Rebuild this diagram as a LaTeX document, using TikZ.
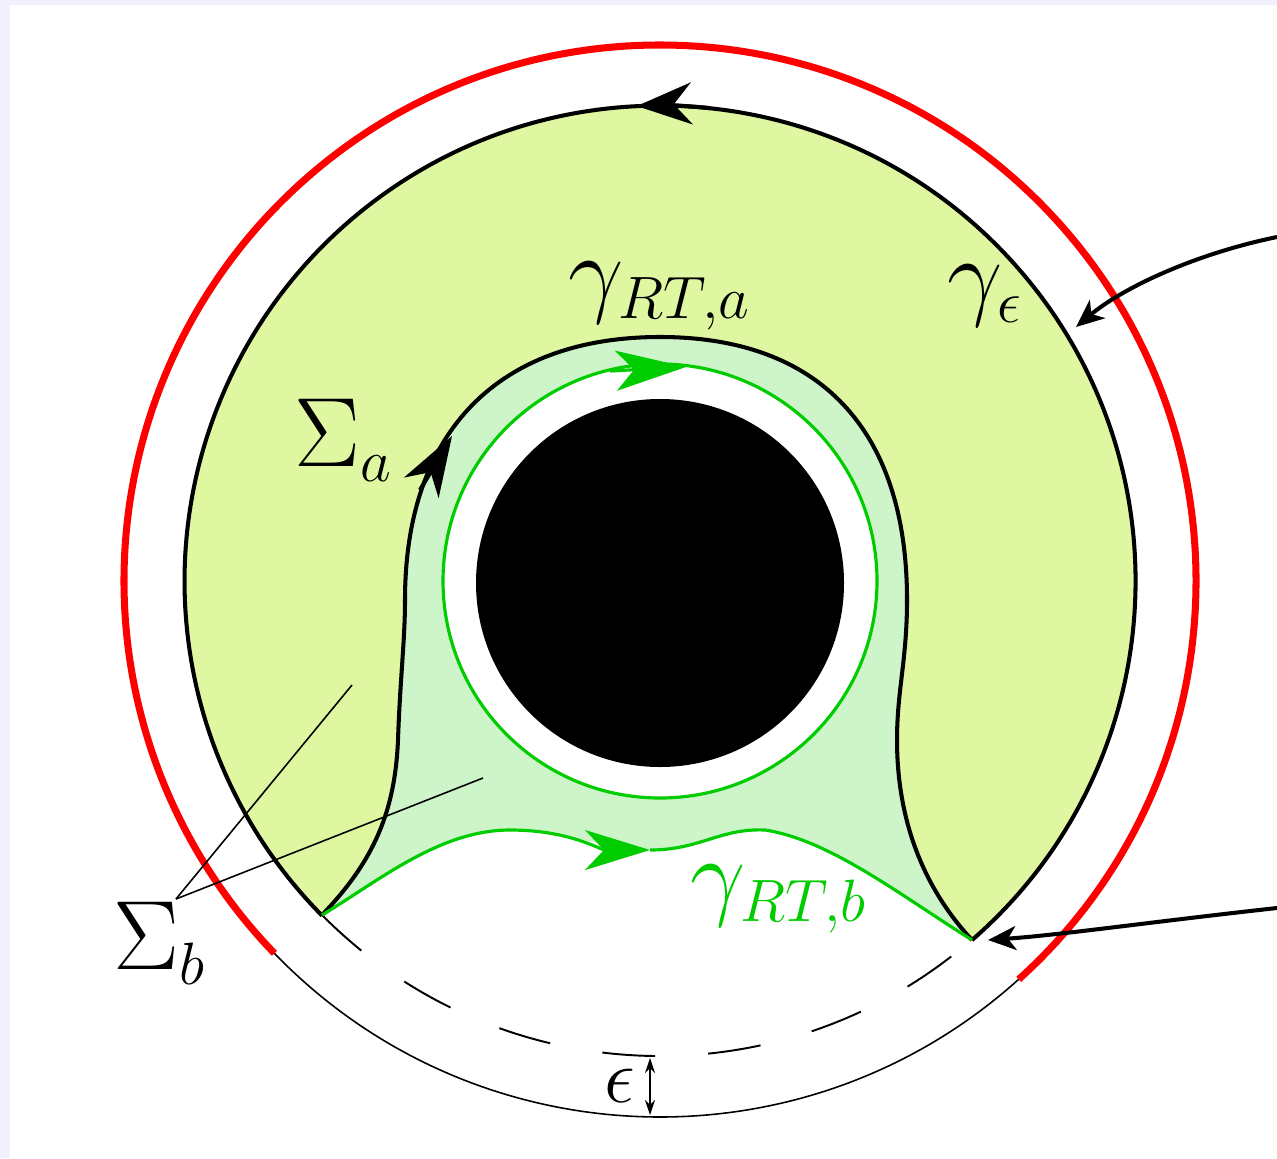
\RequirePackage{fix-cm}
\documentclass[tikz,border=0pt]{standalone}
\usetikzlibrary{arrows.meta,calc}
\DeclareMathSizes{28}{28}{17}{13}
\DeclareMathSizes{22}{22}{15}{11}
\definecolor{bgl}{RGB}{240,241,252}
\definecolor{ygreen}{RGB}{223,247,160}
\definecolor{lgreen}{RGB}{206,245,202}
\definecolor{lineg}{RGB}{0,204,0}
\def\blackpath{.. controls (375,-860) and (395,-810) .. (398,-740) .. controls (400,-680) and (405,-640) .. (405,-600) .. controls (405,-430) and (500,-337) .. (660,-337) .. controls (820,-337) and (907,-430) .. (907,-600) .. controls (907,-660) and (897,-690) .. (897,-740) .. controls (897,-830) and (930,-895) .. (R)}
\def\greenrev{.. controls (900,-895) and (830,-840) .. (765,-830) .. controls (720,-828) and (700,-850) .. (650,-850) .. controls (600,-850) and (570,-830) .. (510,-830) .. controls (440,-830) and (380,-880) .. (L)}
\begin{document}
\begin{tikzpicture}[x=0.01cm,y=0.01cm,
  blk/.style={line width=1.15pt,black},
  grn/.style={line width=0.9pt,lineg},
  thinl/.style={line width=0.45pt,black},
  lbl/.style={inner sep=0pt,font=\fontsize{28}{33}\selectfont},
  bigtip/.style={-{Stealth[length=5.5mm,width=4.2mm,inset=1.8mm]}},
  greentip/.style={-{Stealth[length=6.5mm,width=4mm,inset=1.9mm]}},
  ptrtip/.style={-{Stealth[length=2.8mm,width=2.4mm,inset=0.8mm]}},
  smalltip/.style={{Stealth[length=1.5mm,width=1mm]}-{Stealth[length=1.5mm,width=1mm]}}]
\fill[bgl] (0,0) rectangle (1277,-1158);
\fill[white] (10,-5) rectangle (1277,-1158);
\useasboundingbox (0,0) rectangle (1277,-1158);

\coordinate (C) at (660,-581);
\coordinate (L) at (322,-915);
\coordinate (R) at (972,-940);

% regions
\fill[ygreen] (R) arc[start angle=-49,end angle=224.7,radius=475.5] -- (L) \blackpath -- cycle;
\fill[lgreen] (L) \blackpath \greenrev -- cycle;
\fill[white] (C) circle[radius=217];
\draw[grn] (C) circle[radius=217];
\fill[black] ($(C)+(0,-2)$) circle[radius=184];

% outer circles
\draw[red,line width=2pt] ($(C)+(-48:536)$) arc[start angle=-48,end angle=224,radius=536];
\draw[thinl] ($(C)+(224:536)$) arc[start angle=224,end angle=312,radius=536];
\draw[line width=0.55pt,dash pattern=on 0.53cm off 0.53cm] (L) arc[start angle=224.7,end angle=311,radius=475.5];

% gamma_epsilon and Sigma_a boundary
\draw[blk] (R) arc[start angle=-49,end angle=224.7,radius=475.5];
\draw[blk] (L) \blackpath;
\draw[blk,bigtip] ($(C)+(84:475.5)$) arc[start angle=84,end angle=92.8,radius=475.5];
\coordinate (sa1) at (420,-490);
\coordinate (sa2) at (452,-436);
\draw[blk,-{Stealth[length=6mm,width=4mm,inset=1.8mm]}] (sa1) -- (sa2);

% green curves
\draw[grn,greentip] (L) .. controls (380,-880) and (440,-830) .. (510,-830) .. controls (570,-830) and (600,-850) .. (650,-850);
\draw[grn] (650,-850) .. controls (700,-850) and (720,-828) .. (765,-830) .. controls (830,-840) and (900,-895) .. (R);
\coordinate (ga1) at (610,-371);
\coordinate (ga2) at (686,-367);
\draw[grn,-{Stealth[length=7mm,width=4mm,inset=1.8mm]}] (ga1) -- (ga2);

% Sigma_b pointers
\coordinate (sb) at (176,-899);
\coordinate (sb1) at (352,-685);
\coordinate (sb2) at (483,-778);
\draw[thinl] (sb) -- (sb1);
\draw[thinl] (sb) -- (sb2);

% epsilon marker
\coordinate (et) at (650,-1058);
\coordinate (eb) at (650,-1115);
\draw[thinl,smalltip] (et) -- (eb);

% right pointers
\coordinate (pa0) at (1277,-237);
\coordinate (pa1) at (1076,-327);
\draw[line width=1.15pt,ptrtip] (pa0) .. controls (1190,-255) and (1120,-290) .. (pa1);
\coordinate (pb0) at (1277,-908);
\coordinate (pb1) at (988,-940);
\draw[line width=1.15pt,ptrtip] (pb0) .. controls (1150,-922) and (1060,-935) .. (pb1);

% labels
\node[lbl] (lRTa) at (660,-296) {$\gamma_{RT,a}$};
\node[lbl] (lge) at (985,-296) {$\gamma_\epsilon$};
\node[lbl] (lSa) at (344,-440) {$\Sigma_a$};
\node[lbl] (lSb) at (160,-943) {$\Sigma_b$};
\node[lbl,text=lineg] (lRTb) at (779,-899) {$\gamma_{RT,b}$};
\node[inner sep=0pt,font=\fontsize{22}{26}\selectfont] (leps) at (620,-1086) {$\epsilon$};
\end{tikzpicture}
\end{document}
